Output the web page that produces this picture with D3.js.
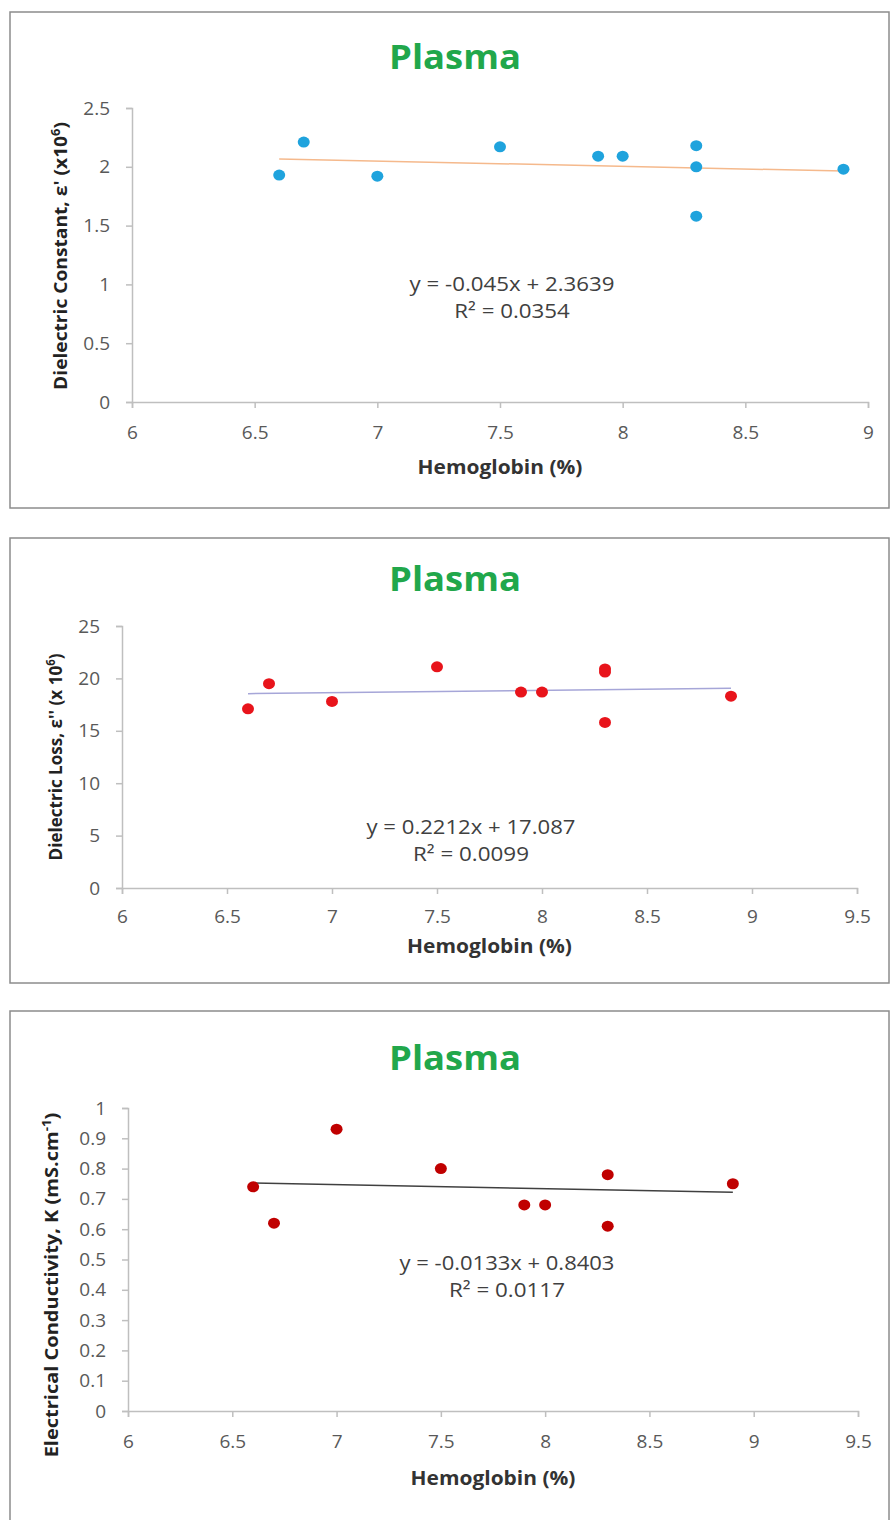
<!DOCTYPE html>
<html>
<head>
<meta charset="utf-8">
<script src="https://cdn.jsdelivr.net/npm/d3@7"></script>
<style>
  body { margin: 0; background: #fff; }
  svg text { font-family: "Open Sans", sans-serif; }
</style>
</head>
<body>
<div id="charts"></div>
<script>
'use strict'

// ---- data ----
const hb1 = [6.6, 6.7, 7.0, 7.5, 7.9, 8.0, 8.3, 8.3, 8.3, 8.9]
const eps1 = [1.93, 2.21, 1.92, 2.17, 2.09, 2.09, 2.18, 2.0, 1.58, 1.98]
const fit1 = [-0.045, 2.3639]
const eq1 = ['y = -0.045x + 2.3639', 'R² = 0.0354']

const hb2 = [6.6, 6.7, 7.0, 7.5, 7.9, 8.0, 8.3, 8.3, 8.3, 8.9]
const loss2 = [17.1, 19.5, 17.8, 21.1, 18.7, 18.7, 20.9, 20.6, 15.8, 18.3]
const fit2 = [0.2212, 17.087]
const eq2 = ['y = 0.2212x + 17.087', 'R² = 0.0099']

const hb3 = [6.6, 6.7, 7.0, 7.5, 7.9, 8.0, 8.3, 8.3, 8.9]
const cond3 = [0.74, 0.62, 0.93, 0.80, 0.68, 0.68, 0.78, 0.61, 0.75]
const fit3 = [-0.0133, 0.8403]
const eq3 = ['y = -0.0133x + 0.8403', 'R² = 0.0117']

const xTicks1 = [6, 6.5, 7, 7.5, 8, 8.5, 9]
const xTicks2 = [6, 6.5, 7, 7.5, 8, 8.5, 9, 9.5]
const yTicks1 = [0, 0.5, 1, 1.5, 2, 2.5]
const yTicks2 = [0, 5, 10, 15, 20, 25]
const yTicks3 = [0, 0.1, 0.2, 0.3, 0.4, 0.5, 0.6, 0.7, 0.8, 0.9, 1]

const svgWidth = 891
const svgHeight = 1520

const svg = d3.select('#charts')
    .append('svg')
    .attr('width', svgWidth)
    .attr('height', svgHeight)

const panels = [
    {
        xs: hb1, ys: eps1, fit: fit1, eq: eq1, xTicks: xTicks1, yTicks: yTicks1,
        xDomain: [6, 9], yDomain: [0, 2.5],
        frame: [10, 12, 879, 496], plot: { left: 132, right: 868, top: 108, bottom: 402 },
        titleY: 69, xTitleY: 474, eqX: 512, eqY: 291, eqW: [205, 116],
        yTitleX: 67, yTitleY: 256, yTitleW: 268, xPad: 18,
        dot: '#1fa3dd', line: '#f5b98c',
        yTitle: ['Dielectric Constant, ε\' (x10', '6', ')']
    },
    {
        xs: hb2, ys: loss2, fit: fit2, eq: eq2, xTicks: xTicks2, yTicks: yTicks2,
        xDomain: [6, 9.5], yDomain: [0, 25],
        frame: [10, 538, 879, 445], plot: { left: 122, right: 857, top: 626, bottom: 888 },
        titleY: 591, xTitleY: 953, eqX: 471, eqY: 834, eqW: [209, 116],
        yTitleX: 62, yTitleY: 757, yTitleW: 207, xPad: 16,
        dot: '#e8141b', line: '#a6a6d8',
        yTitle: ['Dielectric Loss, ε\'\' (x 10', '6', ')']
    },
    {
        xs: hb3, ys: cond3, fit: fit3, eq: eq3, xTicks: xTicks2, yTicks: yTicks3,
        xDomain: [6, 9.5], yDomain: [0, 1],
        frame: [10, 1011, 879, 540], plot: { left: 128, right: 858, top: 1108, bottom: 1411 },
        titleY: 1070, xTitleY: 1485, eqX: 507, eqY: 1270, eqW: [215, 116],
        yTitleX: 58, yTitleY: 1285, yTitleW: 345, xPad: 18,
        dot: '#c00000', line: '#404040',
        yTitle: ['Electrical Conductivity, K (mS.cm', '-1', ')']
    }
]

panels.forEach(drawPanel)

// squeeze a text horizontally to a given width (the original font is narrow)
function fitText(sel, x, y, width, rot) {
    const w = sel.node().getBBox().width
    const s = width / w
    sel.attr('transform', `translate(${x},${y})` + (rot ? ` rotate(${rot})` : '') + ` scale(${s},1)`)
}

function drawPanel(p) {
    const g = svg.append('g')

    // outer frame
    g.append('rect')
        .attr('x', p.frame[0])
        .attr('y', p.frame[1])
        .attr('width', p.frame[2])
        .attr('height', p.frame[3])
        .attr('fill', 'none')
        .attr('stroke', '#8c8c8c')
        .attr('stroke-width', 1.5)

    const xScale = d3.scaleLinear()
        .domain(p.xDomain)
        .range([p.plot.left, p.plot.right])

    const yScale = d3.scaleLinear()
        .domain(p.yDomain)
        .range([p.plot.bottom, p.plot.top])

    // title
    const title = g.append('text')
        .attr('text-anchor', 'middle')
        .attr('fill', '#21a74b')
        .style('font-weight', 'bold')
        .style('font-size', '34px')
        .text('Plasma')
    fitText(title, 455, p.titleY, 132)

    // axes
    const xAxis = d3.axisBottom(xScale)
        .tickValues(p.xTicks)
        .tickSize(6)
        .tickPadding(p.xPad)
        .tickFormat(d3.format(''))

    const yAxis = d3.axisLeft(yScale)
        .tickValues(p.yTicks)
        .tickSize(6)
        .tickPadding(16)
        .tickFormat(d3.format(''))

    g.append('g')
        .attr('transform', `translate(0,${p.plot.bottom})`)
        .call(xAxis)
        .call(styleAxis)

    g.append('g')
        .attr('transform', `translate(${p.plot.left},0)`)
        .call(yAxis)
        .call(styleAxis)

    // trend line from the fitted equation
    const xr = d3.extent(p.xs)
    g.append('line')
        .attr('x1', xScale(xr[0]))
        .attr('y1', yScale(p.fit[0] * xr[0] + p.fit[1]))
        .attr('x2', xScale(xr[1]))
        .attr('y2', yScale(p.fit[0] * xr[1] + p.fit[1]))
        .attr('stroke', p.line)
        .attr('stroke-width', 1.5)

    // points
    g.selectAll('.dot')
        .data(p.xs.map((x, i) => ({ x: x, y: p.ys[i] })))
        .join('ellipse')
        .attr('class', 'dot')
        .attr('cx', d => xScale(d.x))
        .attr('cy', d => yScale(d.y))
        .attr('rx', 6)
        .attr('ry', 5.5)
        .attr('fill', p.dot)

    // equation
    p.eq.forEach((line, i) => {
        const t = g.append('text')
            .attr('text-anchor', 'middle')
            .attr('fill', '#404040')
            .style('font-size', '20px')
            .text(line)
        fitText(t, p.eqX, p.eqY + i * 27, p.eqW[i])
    })

    // x title
    const xt = g.append('text')
        .attr('text-anchor', 'middle')
        .attr('fill', '#333')
        .style('font-weight', 'bold')
        .style('font-size', '19px')
        .text('Hemoglobin (%)')
    fitText(xt, (p.plot.left + p.plot.right) / 2, p.xTitleY, 165)

    // y title
    const yt = g.append('text')
        .attr('text-anchor', 'middle')
        .attr('fill', '#222')
        .style('font-weight', 'bold')
        .style('font-size', '18px')
    yt.append('tspan').text(p.yTitle[0])
    yt.append('tspan').attr('dy', -7).style('font-size', '12px').text(p.yTitle[1])
    yt.append('tspan').attr('dy', 7).text(p.yTitle[2])
    fitText(yt, p.yTitleX, p.yTitleY, p.yTitleW, -90)
}

function styleAxis(sel) {
    sel.select('.domain').attr('stroke', '#bfbfbf').attr('stroke-width', 1.5)
    sel.selectAll('.tick line').attr('stroke', '#bfbfbf').attr('stroke-width', 1.5)
    sel.selectAll('.tick text')
        .attr('fill', '#595959')
        .style('font-family', '"Open Sans", sans-serif')
        .style('font-size', '19px')
}
</script>
</body>
</html>
